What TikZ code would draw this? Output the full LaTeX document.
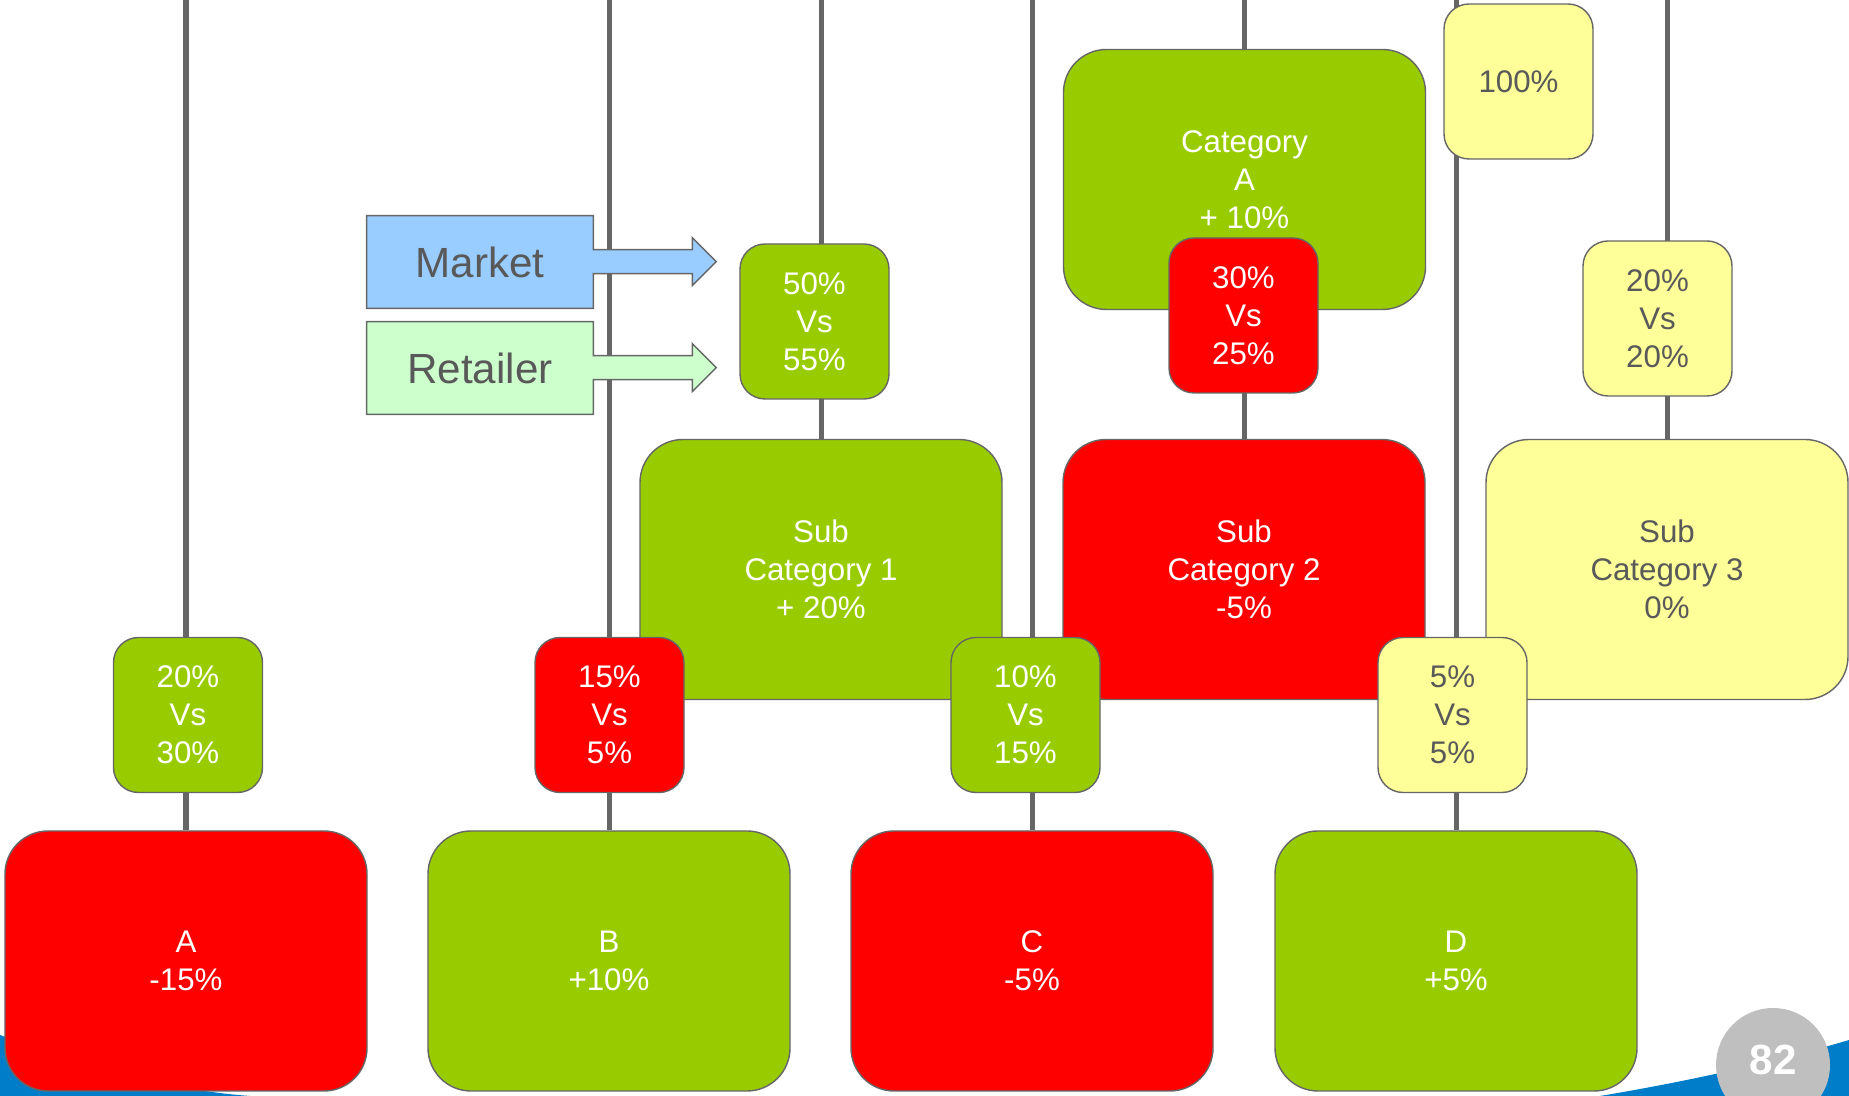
\documentclass[tikz,border=0pt]{standalone}
\usepackage{fontspec}
\setmainfont{Liberation Sans}
\usetikzlibrary{backgrounds}

\definecolor{kpigreen}{HTML}{99CC00}
\definecolor{kpired}{HTML}{FF0000}
\definecolor{kpiyellow}{HTML}{FFFF99}
\definecolor{mktblue}{HTML}{99CCFF}
\definecolor{retgreen}{HTML}{CCFFCC}
\definecolor{edgegray}{HTML}{666666}
\definecolor{textgray}{HTML}{595959}
\definecolor{swooshblue}{HTML}{007DC8}
\definecolor{pagegray}{HTML}{BFBFBF}

\newcommand{\boxfont}{\fontsize{17.8}{21.5}\selectfont}
\newcommand{\tagfont}{\fontsize{24}{28}\selectfont}

\tikzset{
  bigbox/.style={rectangle, rounded corners=0.86cm, draw=edgegray, line width=0.8pt,
    minimum width=7.24cm, minimum height=5.2cm, align=center, font=\boxfont, text=white},
  smallbox/.style={rectangle, rounded corners=0.5cm, draw=edgegray, line width=0.8pt,
    minimum width=2.98cm, minimum height=3.1cm, align=center, font=\boxfont, text=white},
  good/.style={fill=kpigreen},
  bad/.style={fill=kpired},
  flat/.style={fill=kpiyellow, text=textgray},
  tagbox/.style={minimum width=4.52cm, minimum height=1.84cm, font=\tagfont, text=textgray},
  tagline/.style={draw=edgegray, line width=0.8pt},
  link/.style={draw=edgegray, line width=2.85pt},
}

\begin{document}
\begin{tikzpicture}
  \useasboundingbox (0,0) rectangle (36.98,21.92);
  % page corner
  \fill[swooshblue] (0,0) -- (0,1.22) .. controls (1.8,0.55) and (3.4,0.12) .. (5.0,0) -- cycle;
  \fill[swooshblue] (32.0,0) .. controls (33.5,0.25) and (35.3,0.62) .. (36.98,1.12) -- (36.98,0) -- cycle;
  \node[circle, fill=pagegray, minimum size=2.28cm, text depth=0.2cm, text=white, font=\bfseries\tagfont] (page) at (35.46,0.62) {82};

  % categories
  \node[bigbox, good] (cat) at (24.89,18.33) {Category\\A\\+ 10\%};
  \node[bigbox, good] (sub1) at (16.42,10.53) {Sub\\Category 1\\+ 20\%};
  \node[bigbox, bad] (sub2) at (24.88,10.53) {Sub\\Category 2\\-5\%};
  \node[bigbox, flat] (sub3) at (33.34,10.53) {Sub\\Category 3\\0\%};
  \node[bigbox, bad] (A) at (3.72,2.7) {A\\-15\%};
  \node[bigbox, good] (B) at (12.18,2.7) {B\\+10\%};
  \node[bigbox, bad] (C) at (20.64,2.7) {C\\-5\%};
  \node[bigbox, good] (D) at (29.12,2.7) {D\\+5\%};

  % shares
  \node[smallbox, flat] (total) at (30.37,20.29) {100\%};
  \node[smallbox, bad] (vscat) at (24.87,15.61) {30\%\\Vs\\25\%};
  \node[smallbox, good] (vs1) at (16.29,15.49) {50\%\\Vs\\55\%};
  \node[smallbox, flat] (vs3) at (33.15,15.55) {20\%\\Vs\\20\%};
  \node[smallbox, good] (vsA) at (3.76,7.62) {20\%\\Vs\\30\%};
  \node[smallbox, bad] (vsB) at (12.19,7.62) {15\%\\Vs\\5\%};
  \node[smallbox, good] (vsC) at (20.51,7.62) {10\%\\Vs\\15\%};
  \node[smallbox, flat] (vsD) at (29.05,7.62) {5\%\\Vs\\5\%};

  % legend
  \node[tagbox] (market) at (9.6,16.68) {Market};
  \node[tagbox] (retailer) at (9.6,14.56) {Retailer};

  \coordinate (t1) at (3.72,21.92);
  \coordinate (t2) at (12.18,21.92);
  \coordinate (t3) at (16.42,21.92);
  \coordinate (t4) at (20.64,21.92);
  \coordinate (t5) at (24.88,21.92);
  \coordinate (t6) at (29.12,21.92);
  \coordinate (t7) at (33.34,21.92);

  \begin{pgfonlayer}{background}
    \begin{scope}[link]
      \draw (t1) -- (A.north);
      \draw (t2) -- (B.north);
      \draw (t3) -- (sub1.north);
      \draw (t4) -- (C.north);
      \draw (t5) -- (sub2.north);
      \draw (t6) -- (D.north);
      \draw (t7) -- (sub3.north);
    \end{scope}
    \filldraw[tagline, fill=mktblue] (market.north west) -- (market.north east) -- ++(0,-0.68)
      -- ++(1.98,0) -- ++(0,0.24) -- ++(0.48,-0.48) -- ++(-0.48,-0.48) -- ++(0,0.24)
      -- ++(-1.98,0) -- (market.south east) -- (market.south west) -- cycle;
    \filldraw[tagline, fill=retgreen] (retailer.north west) -- (retailer.north east) -- ++(0,-0.68)
      -- ++(1.98,0) -- ++(0,0.24) -- ++(0.48,-0.48) -- ++(-0.48,-0.48) -- ++(0,0.24)
      -- ++(-1.98,0) -- (retailer.south east) -- (retailer.south west) -- cycle;
  \end{pgfonlayer}
\end{tikzpicture}
\end{document}
